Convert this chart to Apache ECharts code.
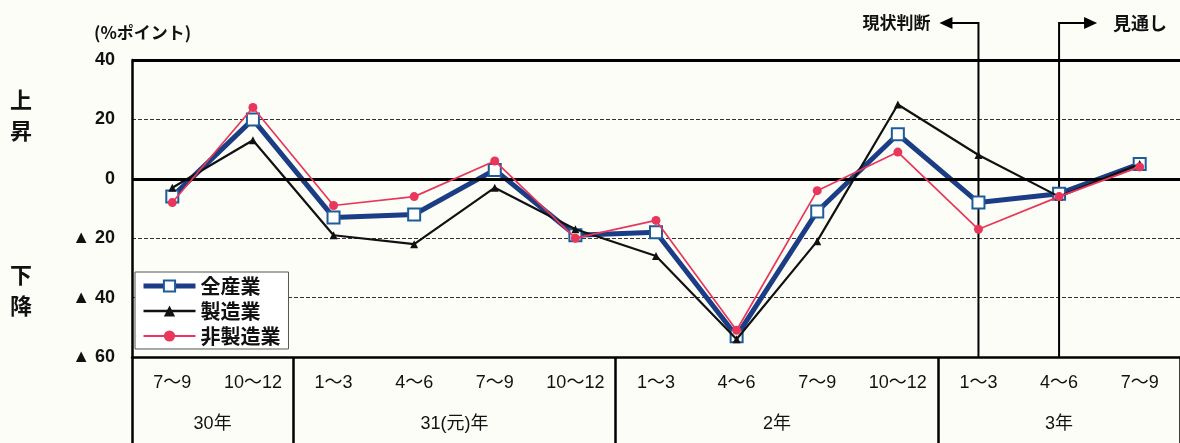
<!DOCTYPE html>
<html><head><meta charset="utf-8">
<script src="https://cdn.jsdelivr.net/npm/echarts@6/dist/echarts.min.js"></script>
<style>html,body{margin:0;padding:0;background:#fdfdf8}#c{width:1180px;height:443px}</style>
</head><body><div id="c"></div>
<script>
// Quarterly DI (%ポイント) by industry
const quarters = ['7～9','10～12','1～3','4～6','7～9','10～12','1～3','4～6','7～9','10～12','1～3','4～6','7～9'];
const yearNames = ['30年','31(元)年','2年','3年'];
const yearQuarterCounts = [2, 4, 4, 3];
const allIndustries = [-6, 20, -13, -12, 3, -19, -18, -53, -11, 15, -8, -5, 5];
const manufacturing = [-3, 13, -19, -22, -3, -17, -26, -54, -21, 25, 8, -6, 5];
const nonManufacturing = [-8, 24, -9, -6, 6, -20, -14, -51, -4, 9, -17, -6, 4];
const currentIdx = 10;   // 現状判断
const outlookIdx = 11;   // 見通し

const FONT_NUM = 'Liberation Sans, DejaVu Sans, Noto Sans CJK JP, sans-serif';
const FONT_JP = 'Noto Sans CJK JP, Liberation Sans, sans-serif';

// boundaries between years, as category indices
const yearBounds = [0];
yearQuarterCounts.forEach(n => yearBounds.push(yearBounds[yearBounds.length - 1] + n));

const chart = echarts.init(document.getElementById('c'));
chart.setOption({
  backgroundColor: '#fdfdf8',
  animation: false,
  grid: { left: 132, right: 0, top: 60, bottom: 86 },
  legend: {
    orient: 'vertical', left: 135, top: 272,
    backgroundColor: '#ffffff', borderColor: '#555', borderWidth: 1,
    padding: [4, 8, 3, 6], itemGap: 5, itemWidth: 52, itemHeight: 14,
    textStyle: { fontFamily: FONT_JP, fontSize: 20, fontWeight: 'bold', color: '#111' },
    data: [
      { name: '全産業', lineStyle: { width: 5 } },
      { name: '製造業', lineStyle: { width: 2.5 } },
      { name: '非製造業', lineStyle: { width: 1.8 } }
    ]
  },
  xAxis: {
    type: 'category', data: quarters, boundaryGap: true,
    axisLine: { onZero: false, lineStyle: { color: '#000', width: 2.5 } },
    axisTick: {
      show: true, length: 86, inside: false,
      interval: (i) => yearBounds.indexOf(i) >= 0 && i < quarters.length,
      lineStyle: { color: '#000', width: 2.5 }
    },
    axisLabel: { margin: 17, fontFamily: FONT_NUM, fontSize: 18, color: '#111', interval: 0 },
    splitLine: { show: false }
  },
  yAxis: {
    type: 'value', min: -60, max: 40, interval: 20,
    axisLine: { show: true, lineStyle: { color: '#000', width: 2.5 } },
    axisTick: { show: false },
    axisLabel: {
      margin: 17, fontFamily: FONT_NUM, fontSize: 18, fontWeight: 'bold', color: '#111',
      formatter: v => v < 0 ? '▲ ' + (-v) : String(v)
    },
    splitLine: { show: true, lineStyle: { color: '#333', width: 1, type: [4, 2] } }
  },
  series: [
    {
      name: '全産業', type: 'line', data: allIndustries, z: 3,
      lineStyle: { color: '#1b3d85', width: 5 },
      symbol: 'rect', symbolSize: 12,
      itemStyle: { color: '#ffffff', borderColor: '#1d5c99', borderWidth: 2 },
      markLine: {
        silent: true, symbol: 'none', label: { show: false },
        lineStyle: { color: '#000', width: 3, type: 'solid' },
        data: [{ yAxis: 0 }, { yAxis: 40 }]
      }
    },
    {
      name: '製造業', type: 'line', data: manufacturing, z: 4,
      lineStyle: { color: '#111', width: 2.2 },
      symbol: 'triangle', symbolSize: 8,
      itemStyle: { color: '#111' }
    },
    {
      name: '非製造業', type: 'line', data: nonManufacturing, z: 5,
      lineStyle: { color: '#e8375a', width: 1.7 },
      symbol: 'circle', symbolSize: 9,
      itemStyle: { color: '#e8375a' }
    }
  ]
});

// Annotations placed through the chart's own scales
const px = i => chart.convertToPixel({ xAxisIndex: 0 }, i);
const yBottom = chart.convertToPixel({ yAxisIndex: 0 }, -60);
const xCur = px(currentIdx), xOut = px(outlookIdx);
const arrowY = 23;
const graphics = [];

yearNames.forEach((name, k) => {
  const a = px(yearBounds[k]), b = px(yearBounds[k + 1] - 1);
  graphics.push({
    type: 'text', x: (a + b) / 2, y: yBottom + 67,
    style: { text: name, fontFamily: FONT_NUM, fontSize: 18, fill: '#111', align: 'center', verticalAlign: 'middle' }
  });
});

// bracket lines for 現状判断 / 見通し
graphics.push(
  { type: 'polyline', shape: { points: [[xCur, yBottom], [xCur, arrowY], [xCur - 28, arrowY]] },
    style: { stroke: '#000', lineWidth: 2, fill: null } },
  { type: 'polygon', shape: { points: [[xCur - 39, arrowY], [xCur - 26, arrowY - 6], [xCur - 26, arrowY + 6]] },
    style: { fill: '#000' } },
  { type: 'text', x: xCur - 48, y: arrowY,
    style: { text: '現状判断', fontFamily: FONT_JP, fontSize: 17, fontWeight: 'bold', fill: '#111', align: 'right', verticalAlign: 'middle' } },
  { type: 'polyline', shape: { points: [[xOut, yBottom], [xOut, arrowY], [xOut + 26, arrowY]] },
    style: { stroke: '#000', lineWidth: 2, fill: null } },
  { type: 'polygon', shape: { points: [[xOut + 38, arrowY], [xOut + 25, arrowY - 6], [xOut + 25, arrowY + 6]] },
    style: { fill: '#000' } },
  { type: 'text', x: xOut + 54, y: arrowY,
    style: { text: '見通し', fontFamily: FONT_JP, fontSize: 18, fontWeight: 'bold', fill: '#111', align: 'left', verticalAlign: 'middle' } },
  { type: 'text', x: 94, y: 33,
    style: { text: '(%ポイント)', fontFamily: FONT_JP, fontSize: 17, fontWeight: 'bold', fill: '#111', align: 'left', verticalAlign: 'middle' } },
  { type: 'text', x: 21, y: 115,
    style: { text: '上\n昇', fontFamily: FONT_JP, fontSize: 22, fontWeight: 'bold', lineHeight: 31, fill: '#111', align: 'center', verticalAlign: 'middle' } },
  { type: 'text', x: 21, y: 290,
    style: { text: '下\n降', fontFamily: FONT_JP, fontSize: 22, fontWeight: 'bold', lineHeight: 31, fill: '#111', align: 'center', verticalAlign: 'middle' } }
);

chart.setOption({ graphic: graphics });
</script>
</body></html>
